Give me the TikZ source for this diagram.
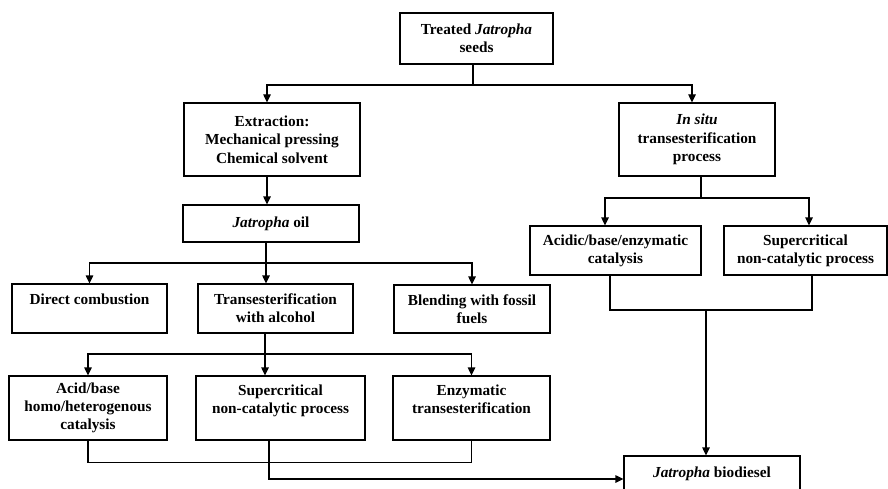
\documentclass[tikz,border=0pt]{standalone}
\usepackage{fontspec}
\setmainfont{Liberation Serif}
\usetikzlibrary{arrows.meta}
\begin{document}
\begin{tikzpicture}[x=1pt,y=-1pt,
  box/.style={draw, line width=1.2pt, align=center, inner sep=0pt,
    font=\fontsize{15.3}{18.3}\selectfont\bfseries},
  link/.style={line width=1.2pt},
  arr/.style={link, -{Triangle[length=8pt,width=7.5pt]}}]
\useasboundingbox (0,0) rectangle (888,489);
\clip (0,0) rectangle (888,489);
\fill[white] (0,0) rectangle (888,489);

% boxes
\node[box, minimum width=153pt, minimum height=51pt] (treated) at (476.5,38.5) {Treated \textit{Jatropha}\\seeds};
\node[box, minimum width=176pt, minimum height=73pt] (extraction) at (272,139.5) {Extraction:\\Mechanical pressing\\Chemical solvent};
\node[box, minimum width=156pt, minimum height=73pt] (insitu) at (697,139.5) {\textit{In situ}\\transesterification\\process};
\node[box, minimum width=176pt, minimum height=37pt] (oil) at (271,223.5) {\textit{Jatropha} oil};
\node[box, minimum width=155pt, minimum height=49pt] (direct) at (89.5,308.5) {Direct combustion\\\mbox{}};
\node[box, minimum width=155pt, minimum height=49pt] (transest) at (275.5,308.5) {Transesterification\\with alcohol};
\node[box, minimum width=156pt, minimum height=48pt] (blending) at (472,309) {Blending with fossil\\fuels};
\node[box, minimum width=158pt, minimum height=64pt] (acid) at (88,408) {Acid/base\\homo/heterogenous\\catalysis};
\node[box, minimum width=169pt, minimum height=64pt] (scmid) at (280.5,408) {Supercritical\\non-catalytic process\\\mbox{}};
\node[box, minimum width=157pt, minimum height=64pt] (enzym) at (471.5,408) {Enzymatic\\transesterification\\\mbox{}};
\node[box, minimum width=171pt, minimum height=49pt] (acidic) at (615.5,250.5) {Acidic/base/enzymatic\\catalysis};
\node[box, minimum width=163pt, minimum height=49pt] (scright) at (805.5,250.5) {Supercritical\\non-catalytic process};
\node[box, minimum width=176pt, minimum height=36pt] (biodiesel) at (712,474) {\textit{Jatropha} biodiesel};

% junction points
\coordinate (j1) at (473,85);
\coordinate (j2) at (266,263);
\coordinate (j3) at (265,354);
\coordinate (j5) at (269,479);
\coordinate (j6) at (701,198);
\coordinate (j7) at (706,310);

% seeds -> extraction / in situ
\draw[link] (treated.south -| j1) -- (j1);
\draw[arr] (j1) -| ([xshift=-5pt]extraction.north);
\draw[arr] (j1) -| ([xshift=-5pt]insitu.north);

% extraction -> oil
\draw[arr] ([xshift=-5pt]extraction.south) -- ([xshift=-5pt]extraction.south |- oil.north);

% oil -> uses
\draw[link] (oil.south -| j2) -- (j2);
\draw[arr] (j2) -| (direct.north);
\draw[arr] (j2) -- (j2 |- transest.north);
\draw[arr] (j2) -| (blending.north);

% transesterification -> routes
\draw[link] (transest.south -| j3) -- (j3);
\draw[arr] (j3) -| (acid.north);
\draw[arr] (j3) -- (j3 |- scmid.north);
\draw[arr] (j3) -| (enzym.north);

% routes -> biodiesel
\draw[link] (acid.south) -- ++(0,22) -| (enzym.south);
\draw[arr] (scmid.south -| j5) -- (j5) -- (j5 -| biodiesel.west);

% in situ branch
\draw[link] (insitu.south -| j6) -- (j6);
\draw[arr] (j6) -| ([xshift=-10.5pt]acidic.north);
\draw[arr] (j6) -| ([xshift=3.5pt]scright.north);
\draw[link] ([xshift=-5.5pt]acidic.south) |- (j7) -| ([xshift=6.5pt]scright.south);
\draw[arr] (j7) -- (j7 |- biodiesel.north);
\end{tikzpicture}
\end{document}
